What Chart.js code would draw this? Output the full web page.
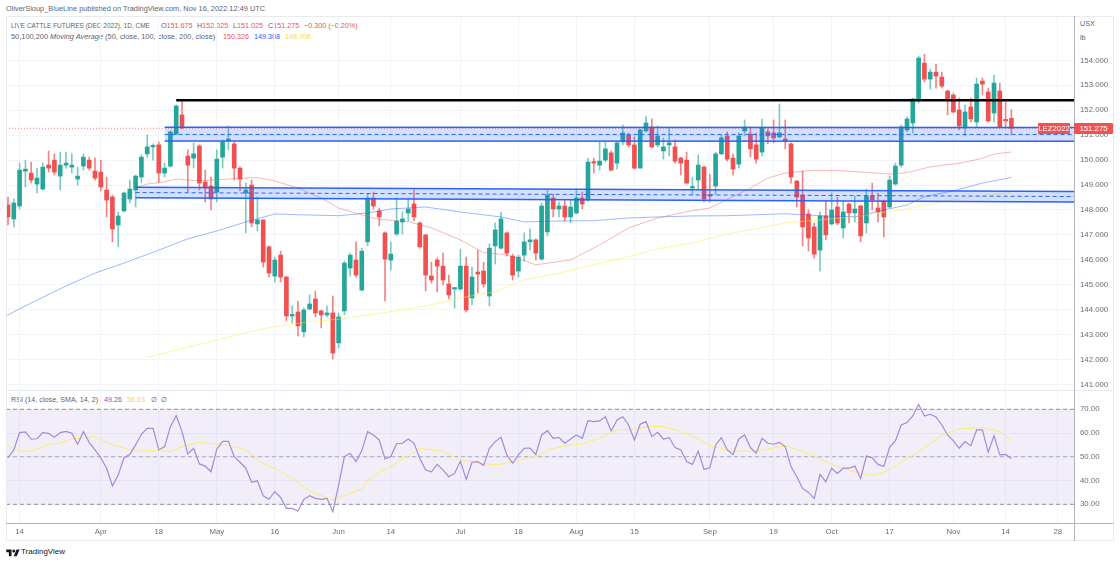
<!DOCTYPE html>
<html>
<head>
<meta charset="utf-8">
<title>LIVE CATTLE FUTURES (DEC 2022)</title>
<script src="https://cdn.jsdelivr.net/npm/chart.js@4"></script>
<style>
  html, body { margin: 0; padding: 0; background: #fff; }
  body { width: 1120px; height: 563px; position: relative; overflow: hidden; font-family: "Liberation Sans", Arial, sans-serif; color: #60636e; }
  canvas { position: absolute; }
  .txt { position: absolute; white-space: pre; font-size: 7.2px; line-height: 10px; }
  .line { position: absolute; background: #b2b5be; }
  .soft { background: #e8eaf0; }
  .red { color: #ef5350; }
  .blue { color: #2962ff; }
  .yellow { color: #fdd835; }
  .purple { color: #7e57c2; }
  .tag { position: absolute; background: #ef5350; color: #fff; font-size: 7.8px; line-height: 11px; height: 11px; text-align: center; border-radius: 1px; }
</style>
</head>
<body>
<div class="txt" style="left:6px;top:4px;font-size:7.4px">OliverSloup_BlueLine published on TradingView.com, Nov 16, 2022 12:49 UTC</div>
<div class="txt" style="left:11px;top:21px;font-size:6.5px">LIVE CATTLE FUTURES (DEC 2022), 1D, CME</div>
<div class="txt red" style="left:161px;top:21px"><span style="color:#60636e">O</span>151.675</div>
<div class="txt red" style="left:197px;top:21px"><span style="color:#60636e">H</span>152.025</div>
<div class="txt red" style="left:233px;top:21px"><span style="color:#60636e">L</span>151.025</div>
<div class="txt red" style="left:268px;top:21px"><span style="color:#60636e">C</span>151.275</div>
<div class="txt red" style="left:304px;top:21px">−0.300 (−0.20%)</div>
<div class="txt" style="left:11px;top:32px;font-size:7.4px">50,100,200 <i>Moving Average</i> (50, close, 100, close, 200, close)</div>
<div class="txt red" style="left:223px;top:32px">150.326</div>
<div class="txt blue" style="left:254px;top:32px">149.308</div>
<div class="txt yellow" style="left:285px;top:32px">148.706</div>
<div class="txt" style="left:1080px;top:19px">USX</div>
<div class="txt" style="left:1080px;top:33px">lb</div>
<div class="txt" style="left:11px;top:395px">RSI (14, close, SMA, 14, 2)</div>
<div class="txt purple" style="left:104px;top:395px">49.26</div>
<div class="txt yellow" style="left:127px;top:395px">56.63</div>
<div class="txt" style="left:151px;top:395px">∅  ∅</div>

<canvas id="mainChart" width="1107" height="374" style="left:6px;top:16px"></canvas>
<canvas id="rsiChart" width="1107" height="150" style="left:6px;top:390px"></canvas>

<div class="line soft" style="left:6px;top:16px;width:1107px;height:1px"></div>
<div class="line soft" style="left:6px;top:16px;width:1px;height:525px"></div>
<div class="line soft" style="left:6px;top:390px;width:1107px;height:1px"></div>
<div class="line soft" style="left:6px;top:540px;width:1107px;height:1px"></div>
<div class="line soft" style="left:1113px;top:16px;width:1px;height:525px"></div>
<div class="line" style="left:6px;top:523px;width:1107px;height:1px"></div>
<div class="line" style="left:1074px;top:16px;width:1px;height:525px"></div>

<div class="tag" style="left:1038px;top:123px;width:32px">LEZ2022</div>
<div class="tag" style="left:1074px;top:123px;width:39px">151.275</div>

<svg style="position:absolute;left:6px;top:548px" width="14" height="9" viewBox="0 0 36 24" fill="#131722">
  <path d="M14 22H7V11H0V4h14v18zM28 22h-8l7.5-18h8L28 22z"/><circle cx="20" cy="8" r="4"/>
</svg>
<div class="txt" style="left:21px;top:547px;font-size:8px;color:#131722">TradingView</div>

<script>
// daily candles
const opens = [
  148.20,147.64,148.16,149.56,149.48,149.04,148.84,149.80,150.00,149.36,
  149.80,149.72,149.24,149.76,150.00,149.56,149.52,148.80,148.52,147.40,
  147.96,148.44,148.80,149.32,150.25,150.53,150.61,149.48,149.76,151.05,
  151.81,150.16,150.08,150.57,149.12,148.96,148.72,150.12,150.77,150.65,
  149.68,148.68,149.00,147.44,147.60,146.52,145.35,146.19,145.31,143.75,
  143.91,143.11,144.03,144.43,143.95,143.79,143.87,142.67,143.95,145.67,
  145.99,144.79,146.72,148.48,147.96,147.08,145.99,147.04,147.52,147.88,
  148.24,147.48,147.00,145.35,145.99,145.75,145.03,144.83,144.83,145.75,
  144.47,145.51,145.55,144.55,146.56,146.47,147.08,146.15,145.55,146.19,
  146.72,146.80,146.03,147.12,148.48,148.04,148.16,147.72,147.88,148.48,
  148.40,149.92,149.80,150.00,150.29,149.88,150.73,151.01,150.61,149.68,
  151.17,151.33,150.61,150.37,150.61,150.53,150.08,150.00,148.88,149.20,
  149.72,148.60,148.96,150.25,150.97,150.08,149.84,151.17,151.05,150.61,
  150.32,151.13,151.09,150.93,150.85,150.65,149.16,148.60,147.84,147.32,
  146.39,147.76,147.44,148.12,147.28,148.24,147.88,148.16,147.48,148.56,
  148.08,148.36,148.12,149.04,149.80,151.21,151.49,152.45,153.89,153.25,
  153.53,153.33,152.77,152.61,152.01,151.29,152.13,151.53,153.17,152.73,
  151.89,152.77,151.61,151.675
]
const highs = [
  148.52,148.44,149.88,150.00,149.92,149.68,149.88,150.36,150.25,150.32,
  150.32,150.25,149.72,150.25,150.12,150.08,150.00,149.32,148.60,147.92,
  148.72,149.20,149.40,150.21,151.01,150.65,150.73,149.88,151.17,152.21,
  152.37,150.41,150.69,150.61,149.60,149.32,150.41,150.81,151.37,150.73,
  149.72,149.08,149.20,148.52,147.60,146.56,146.11,146.35,145.35,144.15,
  144.35,144.07,144.59,144.75,143.99,144.15,144.55,143.87,145.95,146.27,
  146.72,146.47,148.64,148.72,148.08,147.12,146.72,148.48,147.92,148.48,
  148.80,147.52,147.04,145.91,146.07,146.27,145.39,144.87,146.43,146.11,
  145.71,146.39,145.91,146.64,147.48,147.92,147.12,146.23,146.19,147.08,
  147.24,146.84,148.28,148.80,148.64,148.32,148.40,148.40,148.84,148.72,
  150.08,150.08,150.73,150.73,150.37,150.73,151.41,151.09,150.93,151.25,
  151.77,151.65,151.37,150.89,151.29,150.81,150.12,150.32,149.32,150.21,
  149.76,149.44,150.32,151.01,151.13,150.25,151.09,151.61,151.33,151.09,
  151.65,151.25,151.61,152.25,151.61,150.69,149.20,149.56,148.00,147.48,
  147.92,148.36,148.68,148.52,148.36,148.28,148.56,148.20,148.84,149.08,
  148.68,148.40,149.36,149.88,151.41,151.73,152.49,154.17,154.25,153.65,
  153.85,153.53,152.81,152.69,152.49,152.21,152.49,153.29,153.29,152.89,
  153.41,153.09,152.33,152.025
]
const lows = [
  147.40,147.32,148.04,148.92,149.08,148.68,148.80,149.52,149.40,148.80,
  149.68,149.48,149.00,149.60,149.60,149.20,148.76,147.72,146.72,146.52,
  147.92,148.28,148.12,149.08,150.12,150.00,149.12,149.32,149.72,151.01,
  151.25,148.72,149.68,148.80,148.32,148.00,148.32,149.68,150.41,149.20,
  148.76,147.08,147.32,147.16,145.71,145.31,145.11,145.11,143.55,143.47,
  142.95,142.91,143.99,143.71,143.27,143.71,142.02,142.46,143.79,145.35,
  145.31,144.75,146.56,148.04,147.36,144.35,145.59,146.96,147.04,147.56,
  147.56,146.47,144.75,145.07,144.71,144.99,144.43,144.07,144.79,143.91,
  144.19,144.67,144.91,144.15,145.83,146.43,146.15,145.19,145.31,145.95,
  146.39,145.99,145.99,146.96,147.72,147.72,147.56,147.48,147.84,148.04,
  148.36,149.48,149.60,149.92,149.56,149.64,150.61,150.53,149.64,149.68,
  151.13,150.49,150.53,150.04,150.16,149.88,149.40,149.04,148.60,148.84,
  148.32,148.32,148.60,150.21,149.96,149.40,149.68,150.97,150.12,149.88,
  150.16,150.65,150.69,150.89,150.45,149.08,148.12,146.56,146.35,146.07,
  145.55,146.80,147.40,147.40,146.88,147.48,147.52,146.72,147.08,148.00,
  147.52,146.92,148.08,149.00,149.72,151.13,151.09,152.29,153.13,152.85,
  152.89,152.89,151.81,151.89,151.21,150.97,151.53,151.33,152.61,151.53,
  151.53,151.29,151.29,151.025
]
const closes = [
  147.72,148.28,149.60,149.64,149.20,149.28,149.72,149.68,149.52,149.80,
  149.88,149.80,149.36,150.12,149.68,149.28,148.92,148.40,147.24,147.76,
  148.68,148.84,149.36,150.12,150.53,150.57,149.48,149.68,151.13,152.17,
  151.29,149.80,150.25,149.08,148.88,148.44,150.04,150.73,150.85,149.68,
  149.24,148.80,147.48,147.60,145.91,145.47,145.99,145.31,143.75,143.79,
  143.35,143.99,144.23,143.87,143.79,143.87,142.26,143.71,145.87,146.19,
  145.39,146.35,148.48,148.16,147.72,146.03,146.23,147.56,147.64,148.04,
  147.72,146.52,145.39,145.19,145.75,145.19,144.59,144.87,145.75,143.99,
  145.31,145.43,145.03,146.47,147.20,147.64,146.27,145.39,146.11,146.72,
  146.80,146.27,148.16,148.60,148.04,148.16,147.72,148.12,148.48,148.24,
  149.92,149.88,149.96,150.45,149.60,150.69,151.09,150.61,149.68,151.21,
  151.49,150.53,150.97,150.53,150.69,149.96,149.88,149.08,148.92,149.80,
  148.44,148.56,150.25,150.89,150.04,149.64,150.97,151.33,150.45,150.04,
  151.29,150.97,150.89,151.09,150.77,149.32,148.52,147.32,146.88,146.23,
  147.76,147.00,148.00,147.48,147.92,147.88,148.04,146.96,148.56,148.40,
  147.92,147.72,149.20,149.76,151.33,151.65,152.45,154.09,153.25,153.53,
  153.37,152.97,152.45,151.93,151.37,151.93,151.65,153.05,153.05,151.57,
  153.09,151.33,151.57,151.275
]

// moving averages, sampled where they could be read
const ma50Bars = [22,24,27,29,33,38,43,46,50,54,57,62,64,69,73,78,82,86,91,97,102,107,112,117,121,125,128,131,134,138,143,148,152,155,159,164,168,170,173]
const ma50Values = [148.9,149.04,149.13,149.24,149.17,149.24,149.3,149.16,148.88,148.48,148.08,147.73,147.63,147.53,147.28,146.8,146.29,146.2,145.8,146.0,146.6,147.28,147.68,147.93,148.08,148.53,148.88,149.28,149.48,149.58,149.58,149.51,149.44,149.5,149.73,149.87,150.07,150.24,150.326]
const ma100Bars = [-1,4,10,15,20,26,31,36,41,46,50,57,62,66,72,78,85,89,95,101,107,112,118,124,128,134,140,146,151,155,158,163,168,173]
const ma100Values = [143.67,144.27,144.95,145.47,145.87,146.39,146.84,147.16,147.52,147.84,147.81,147.77,147.88,148.04,148.12,147.92,147.72,147.52,147.56,147.57,147.68,147.72,147.76,147.77,147.8,147.85,147.77,147.72,148.0,148.2,148.53,148.77,149.08,149.308]
const ma200Bars = [24,28,35,41,46,52,57,62,66,72,78,84,89,95,101,107,112,118,124,128,134,140,146,150,154,160,166,173]
const ma200Values = [142.08,142.32,142.72,143.08,143.32,143.52,143.62,143.79,143.92,144.15,144.47,144.72,145.19,145.47,145.8,146.13,146.44,146.68,147.04,147.2,147.48,147.6,147.73,147.88,148.0,148.28,148.53,148.706]

const rsiValues = [
  49.6,52.9,60.2,60.5,57.4,57.6,60.2,59.9,58.2,60.2,
  60.7,59.9,55.3,60.6,56.1,52.9,49.6,45.2,37.7,42.3,
  49.6,51.0,55.0,59.5,62.0,62.0,52.9,54.3,62.7,67.3,
  60.6,51.2,53.6,47.0,46.1,43.7,53.2,56.5,56.5,50.1,
  47.7,45.2,39.3,39.9,33.6,32.1,35.3,32.9,28.3,28.3,
  27.2,32.1,33.6,32.5,32.1,32.5,26.9,38.1,50.1,51.5,
  48.0,52.6,60.6,59.2,57.1,49.1,50.1,55.5,55.7,57.5,
  55.7,49.4,44.4,43.7,46.8,44.4,41.6,43.0,48.2,40.5,
  47.7,48.0,46.3,53.6,56.4,58.2,50.8,47.3,50.8,53.6,
  53.7,51.0,59.2,61.0,57.8,58.2,55.7,57.5,59.2,57.8,
  65.2,64.8,65.1,66.9,60.9,65.5,66.9,63.4,57.1,63.7,
  64.8,58.5,60.3,57.5,58.1,53.9,52.9,48.0,46.8,52.4,
  44.7,45.4,55.0,58.1,52.9,51.0,57.5,59.2,53.9,51.5,
  57.8,55.7,55.3,56.1,54.3,45.9,41.6,36.7,35.0,32.5,
  42.6,39.5,45.2,43.0,45.2,45.2,46.1,40.9,50.3,49.6,
  46.8,45.9,54.0,56.8,63.4,64.4,67.2,72.1,67.2,67.9,
  66.8,63.4,59.2,56.7,53.6,56.4,54.6,61.3,61.3,51.9,
  58.9,50.8,51.0,49.26
]
const rsiMaBars = [-1,2,4,7,9,11,15,18,22,26,28,30,33,36,38,41,44,47,49,52,56,59,61,62,64,66,69,71,73,75,78,81,84,87,89,92,93,96,99,102,105,108,111,113,116,119,121,125,129,130,134,138,142,146,149,151,154,158,161,164,168,171,173]
const rsiMaValues = [55.8,52.4,52.4,55.3,55.7,57.5,58.5,55.0,52.4,52.6,52.2,54.3,56.1,55.3,54.7,52.9,47.3,44.0,40.9,35.6,31.8,34.6,36.4,39.8,43.5,45.9,50.5,53.6,52.9,52.2,48.7,47.5,46.6,47.7,49.1,51.0,52.9,54.6,55.4,57.8,61.3,61.7,62.8,62.8,60.6,57.5,54.6,52.4,52.4,52.9,54.6,51.5,46.8,43.5,42.1,43.5,47.7,53.6,59.2,61.7,62.4,60.6,56.63]

// drawn levels on the price pane: [left, right]
const resistanceLine = [152.4, 152.4]
const upperZoneTop = [151.32, 151.31]
const upperZoneMid = [151.03, 151.03]
const upperZoneBottom = [150.77, 150.76]
const lowerZoneTop = [148.91, 148.74]
const lowerZoneMid = [148.70, 148.54]
const lowerZoneBottom = [148.49, 148.32]
const lastPrice = 151.275

// axis ticks
const timeTickBars = [2,16,26,36,46,57,66,78,88,98,108,121,132,142,152,163,172,181]
const timeTickLabels = ['14','Apr','18','May','16','Jun','14','Jul','18','Aug','15','Sep','19','Oct','17','Nov','14','28']
const priceTicks = [141,142,143,144,145,146,147,148,149,150,151,152,153,154]
const rsiTicks = [30,40,50,60,70]
const rsiGuides = [70, 50, 30]

const barMin = -0.345
const barMax = 183.79
const upColor = '#26a69a'
const downColor = '#f0504f'
const gridColor = '#f2f4fa'
const zoneBlue = '#2962ff'

const isDown = i => closes[i] < opens[i]
const bars = opens.map((_, i) => i)

function points(xs, ys) {
  return xs.map((x, i) => ({ x: x, y: ys[i] }))
}

// straight segment between the left start of a drawing and the right edge
function segment(startBar, values, extra) {
  return Object.assign({
    type: 'line',
    data: [{ x: startBar, y: values[0] }, { x: barMax, y: values[1] }],
    pointRadius: 0,
    borderWidth: 1.5,
    borderColor: zoneBlue,
    fill: false,
    order: 2
  }, extra)
}

function timeAxis(showLabels) {
  return {
    type: 'linear',
    offset: false,
    min: barMin,
    max: barMax,
    afterBuildTicks(scale) {
      scale.ticks = timeTickBars.map(v => ({ value: v }))
    },
    afterFit(scale) {
      scale.height = showLabels ? 17 : 0
      scale.paddingLeft = 0
      scale.paddingRight = 0
    },
    grid: { color: gridColor, drawTicks: false, offset: false },
    border: { display: false },
    ticks: {
      display: showLabels,
      autoSkip: false,
      maxRotation: 0,
      padding: 4,
      color: '#6a6d78',
      font: {
        family: '"Liberation Sans", Arial, sans-serif',
        size: 7.8
      },
      callback(value) {
        const at = timeTickBars.indexOf(value)
        return at < 0 ? '' : timeTickLabels[at]
      }
    }
  }
}

function valueAxis(min, max, tickValues, digits) {
  return {
    position: 'right',
    min: min,
    max: max,
    afterBuildTicks(scale) {
      scale.ticks = tickValues.map(v => ({ value: v }))
    },
    afterFit(scale) {
      // the chart area has to fill the pane, no room for end labels
      scale.width = 39
      scale.paddingTop = 0
      scale.paddingBottom = 0
    },
    grid: { color: gridColor, drawTicks: false },
    border: { display: false },
    ticks: {
      padding: 6,
      color: '#6a6d78',
      font: {
        family: '"Liberation Sans", Arial, sans-serif',
        size: 7.8
      },
      callback(value) {
        return value.toFixed(digits)
      }
    }
  }
}

const baseOptions = {
  responsive: false,
  animation: false,
  events: [],
  layout: { padding: 0 },
  plugins: { legend: { display: false }, tooltip: { enabled: false } }
}

new Chart(document.getElementById('mainChart'), {
  type: 'bar',
  data: {
    datasets: [
      {
        // wicks
        data: bars.map(i => ({ x: i, y: [lows[i], highs[i]] })),
        backgroundColor: bars.map(i => isDown(i) ? 'rgba(240,80,79,0.7)' : 'rgba(38,166,154,0.6)'),
        barThickness: 1,
        grouped: false,
        order: 6
      },
      {
        // bodies
        data: bars.map(i => ({ x: i, y: [opens[i], closes[i]] })),
        backgroundColor: bars.map(i => isDown(i) ? downColor : upColor),
        barThickness: 4,
        minBarLength: 1.5,
        grouped: false,
        order: 5
      },
      {
        type: 'line',
        data: points(ma50Bars, ma50Values),
        borderColor: 'rgba(239,83,80,0.42)',
        borderWidth: 1,
        pointRadius: 0,
        order: 4
      },
      {
        type: 'line',
        data: points(ma100Bars, ma100Values),
        borderColor: 'rgba(41,98,255,0.45)',
        borderWidth: 1,
        pointRadius: 0,
        order: 4
      },
      {
        type: 'line',
        data: points(ma200Bars, ma200Values),
        borderColor: 'rgba(255,235,59,0.5)',
        borderWidth: 1,
        pointRadius: 0,
        order: 4
      },
      {
        type: 'line',
        data: [{ x: barMin, y: lastPrice }, { x: barMax, y: lastPrice }],
        borderColor: 'rgba(239,83,80,0.7)',
        borderWidth: 1,
        borderDash: [1, 2],
        pointRadius: 0,
        order: 3
      },
      segment(27, upperZoneTop, { fill: '+1', backgroundColor: 'rgba(41,98,255,0.2)' }),
      segment(27, upperZoneBottom),
      segment(27, upperZoneMid, { borderWidth: 1, borderDash: [4, 3] }),
      segment(22, lowerZoneTop, { fill: '+1', backgroundColor: 'rgba(41,98,255,0.2)' }),
      segment(22, lowerZoneBottom),
      segment(22, lowerZoneMid, { borderWidth: 1, borderDash: [4, 3] }),
      segment(29, resistanceLine, { borderColor: '#000', borderWidth: 2.5, order: 1 })
    ]
  },
  options: Object.assign({}, baseOptions, {
    scales: {
      x: timeAxis(false),
      y: valueAxis(140.78, 155.78, priceTicks, 3)
    }
  })
})

new Chart(document.getElementById('rsiChart'), {
  type: 'line',
  data: {
    datasets: [
      {
        data: [{ x: barMin, y: rsiGuides[0] }, { x: barMax, y: rsiGuides[0] }],
        borderColor: '#8f929c',
        borderWidth: 1,
        borderDash: [4, 3],
        pointRadius: 0,
        fill: '+1',
        backgroundColor: 'rgba(126,87,194,0.1)',
        order: 3
      },
      {
        data: [{ x: barMin, y: rsiGuides[2] }, { x: barMax, y: rsiGuides[2] }],
        borderColor: '#8f929c',
        borderWidth: 1,
        borderDash: [4, 3],
        pointRadius: 0,
        order: 3
      },
      {
        data: [{ x: barMin, y: rsiGuides[1] }, { x: barMax, y: rsiGuides[1] }],
        borderColor: 'rgba(143,146,156,0.7)',
        borderWidth: 1,
        borderDash: [4, 3],
        pointRadius: 0,
        order: 3
      },
      {
        data: points(rsiMaBars, rsiMaValues),
        borderColor: '#ffeb6b',
        borderWidth: 1,
        pointRadius: 0,
        order: 2
      },
      {
        data: points(bars, rsiValues),
        borderColor: '#a48ad8',
        borderWidth: 1.2,
        pointRadius: 0,
        order: 1
      }
    ]
  },
  options: Object.assign({}, baseOptions, {
    scales: {
      x: timeAxis(true),
      y: valueAxis(22.13, 78.13, rsiTicks, 2)
    }
  })
})
</script>
</body>
</html>
